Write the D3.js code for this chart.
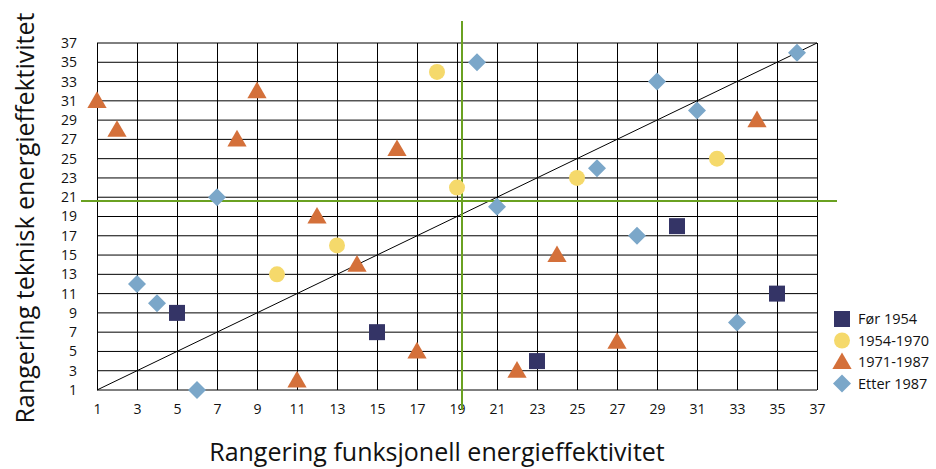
<!DOCTYPE html>
<html><head><meta charset="utf-8">
<script src="https://cdn.jsdelivr.net/npm/d3@7"></script>
<style>body{margin:0;background:#fff}svg{display:block}text{font-family:"Open Sans","Noto Sans",sans-serif;fill:#111}</style>
</head><body><svg id="c" width="936" height="469"></svg>
<script>
const ticks = d3.range(1, 38, 2);
const seriesNames = ["Før 1954", "1954-1970", "1971-1987", "Etter 1987"];
const forX = [5, 15, 23, 30, 35];
const forY = [9, 7, 4, 18, 11];
const s2X = [10, 13, 18, 19, 25, 32];
const s2Y = [13, 16, 34, 22, 23, 25];
const s3X = [1, 2, 8, 9, 11, 12, 14, 16, 17, 22, 24, 27, 34];
const s3Y = [31, 28, 27, 32, 2, 19, 14, 26, 5, 3, 15, 6, 29];
const s4X = [3, 4, 6, 7, 20, 21, 26, 28, 29, 31, 33, 36];
const s4Y = [12, 10, 1, 21, 35, 20, 24, 17, 33, 30, 8, 36];
const refX = 19.25, refY = 20.6;
const diag = [1, 37];

const svg = d3.select("#c");
const x = d3.scaleLinear().domain([1, 37]).range([97, 817]);
const y = d3.scaleLinear().domain([1, 37]).range([390, 43]);

const colors = ["#343466", "#F5D96B", "#D4703A", "#7BA7C9"];
const diamond = { draw(ctx, size) { const r = Math.sqrt(size / 2); ctx.moveTo(0, -r); ctx.lineTo(r, 0); ctx.lineTo(0, r); ctx.lineTo(-r, 0); ctx.closePath(); } };
const symbols = [d3.symbolSquare, d3.symbolCircle, d3.symbolTriangle, diamond];
const sizes = [256, 200, 160, 162];
const dy = [0, 0, 1.5, 0];
const series = [[forX, forY], [s2X, s2Y], [s3X, s3Y], [s4X, s4Y]];

const g = svg.append("g");
g.selectAll(".vg").data(ticks).join("line")
  .attr("x1", d => Math.round(x(d)) + 0.5).attr("x2", d => Math.round(x(d)) + 0.5)
  .attr("y1", y(37)).attr("y2", y(1)).attr("stroke", "#000").attr("stroke-width", 1);
g.selectAll(".hg").data(ticks).join("line")
  .attr("x1", x(1)).attr("x2", x(37))
  .attr("y1", d => y(d)).attr("y2", d => y(d)).attr("stroke", "#000").attr("stroke-width", 1);

const xa = svg.append("g").attr("transform", `translate(0,${y(1)})`)
  .call(d3.axisBottom(x).tickValues(ticks).tickSize(0).tickPadding(14));
xa.select(".domain").remove();
xa.selectAll("text").style("font-size", "14px").attr("fill", "#111");
const ya = svg.append("g").attr("transform", `translate(${x(1) - 15},0)`)
  .call(d3.axisLeft(y).tickValues(ticks).tickSize(0).tickPadding(5));
ya.select(".domain").remove();
ya.selectAll("text").style("font-size", "14px").attr("fill", "#111");

svg.append("line").attr("x1", x(diag[0])).attr("y1", y(diag[0])).attr("x2", x(diag[1])).attr("y2", y(diag[1]))
  .attr("stroke", "#000").attr("stroke-width", 1);

svg.append("line").attr("x1", x(refX)).attr("x2", x(refX)).attr("y1", 21).attr("y2", 410)
  .attr("stroke", "#6AA121").attr("stroke-width", 2);
svg.append("line").attr("x1", 81).attr("x2", 837).attr("y1", y(refY)).attr("y2", y(refY))
  .attr("stroke", "#6AA121").attr("stroke-width", 2);

series.forEach((s, i) => {
  const pts = s[0].map((v, j) => [v, s[1][j]]);
  svg.append("g").selectAll("path").data(pts).join("path")
    .attr("d", d3.symbol().type(symbols[i]).size(sizes[i]))
    .attr("transform", d => `translate(${x(d[0])},${y(d[1]) + dy[i]})`)
    .attr("fill", colors[i]);
});

const lg = svg.append("g").attr("transform", "translate(842,319)");
seriesNames.forEach((n, i) => {
  const r = lg.append("g").attr("transform", `translate(0,${i * 21.5})`);
  r.append("path").attr("d", d3.symbol().type(symbols[i]).size(sizes[i]))
    .attr("transform", `translate(0,${dy[i]})`).attr("fill", colors[i]);
  r.append("text").attr("x", 16).attr("y", 5).style("font-size", "14.5px").text(n);
});

svg.append("text").attr("x", 437).attr("y", 461).attr("text-anchor", "middle")
  .style("font-size", "25px").text("Rangering funksjonell energieffektivitet");
svg.append("text").attr("transform", "translate(34,218) rotate(-90)").attr("text-anchor", "middle")
  .style("font-size", "25px").text("Rangering teknisk energieffektivitet");
</script></body></html>
